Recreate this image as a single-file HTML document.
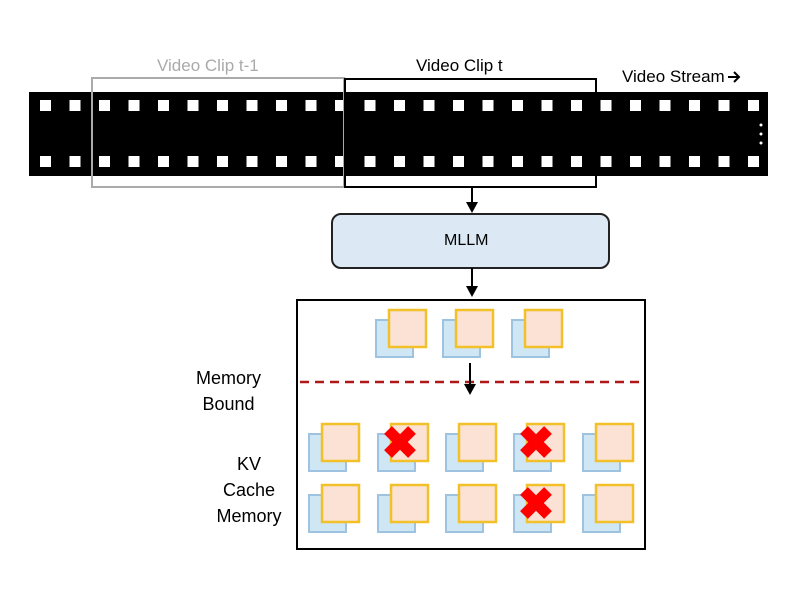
<!DOCTYPE html>
<html><head><style>
body{margin:0;width:800px;height:600px;background:#fff;position:relative;font-family:"Liberation Sans",sans-serif;overflow:hidden}
.t{position:absolute;font-size:17px;white-space:nowrap}
</style></head><body>
<svg width="800" height="600" style="position:absolute;left:0;top:0">
<rect x="29" y="92" width="739" height="84" fill="#000"/>
<g fill="#fff" id="holes"></g>
<circle cx="761" cy="125" r="1.5" fill="#fff"/><circle cx="761" cy="134" r="1.5" fill="#fff"/><circle cx="761" cy="143" r="1.5" fill="#fff"/>
<rect x="92" y="78" width="252" height="109" fill="none" stroke="#aaa" stroke-width="2"/>
<rect x="345" y="79" width="251" height="108" fill="none" stroke="#000" stroke-width="2"/>
<line x1="472" y1="187" x2="472" y2="204" stroke="#000" stroke-width="2"/><path d="M466,202L478,202L472,213z"/>
<rect x="332" y="214" width="277" height="54" rx="9" fill="#dce9f5" stroke="#222" stroke-width="2"/>
<line x1="472" y1="268" x2="472" y2="288" stroke="#000" stroke-width="2"/><path d="M466,286L478,286L472,297z"/>
<rect x="297" y="300" width="348" height="249" fill="none" stroke="#000" stroke-width="2"/>
<line x1="300" y1="382" x2="645" y2="382" stroke="#b01818" stroke-width="2.5" stroke-dasharray="9,6"/>
<line x1="470" y1="363" x2="470" y2="386" stroke="#000" stroke-width="2"/><path d="M464,384L476,384L470,395z"/>
<path d="M728,77L739,77M734,72L739,77L734,82" fill="none" stroke="#000" stroke-width="2"/>
<g id="pairs"></g>
</svg>
<div class="t" style="left:157px;top:56px;color:#aaa">Video Clip t-1</div>
<div class="t" style="left:416px;top:56px">Video Clip t</div>
<div class="t" style="left:622px;top:67px">Video Stream</div>
<div class="t" style="left:444px;top:232px;font-size:16px">MLLM</div>
<div class="t" style="left:196px;top:365px;text-align:center;line-height:26px;font-size:18px">Memory<br>Bound</div>
<div class="t" style="left:211px;top:451px;text-align:center;line-height:26px;width:76px;font-size:18px">KV<br>Cache<br>Memory</div>
<script>
var h=document.getElementById('holes'),s='';
for(var x=40;x<755;x+=29.5){s+='<rect x="'+x+'" y="100" width="11" height="11"/><rect x="'+x+'" y="156" width="11" height="11"/>';}
h.innerHTML=s;
var p='';
function pair(bx,by,cross){p+='<rect x="'+bx+'" y="'+by+'" width="37" height="37" fill="#cfe6f5" stroke="#9dc3e0" stroke-width="2"/><rect x="'+(bx+13)+'" y="'+(by-10)+'" width="37" height="37" fill="#fbe2d5" stroke="#f2c029" stroke-width="2.5"/>';
if(cross){var cx=bx+22,cy=by+8;p+='<path d="M'+(cx-12)+','+(cy-12)+'L'+(cx+12)+','+(cy+12)+'M'+(cx+12)+','+(cy-12)+'L'+(cx-12)+','+(cy+12)+'" stroke="#f00" stroke-width="11"/>';}}
[376,443,512].forEach(function(x){pair(x,320)});
var xs=[309,378,446,514,583];
xs.forEach(function(x,i){pair(x,434,i==1||i==3)});
xs.forEach(function(x,i){pair(x,495,i==3)});
document.getElementById('pairs').innerHTML=p;
</script>
</body></html>
